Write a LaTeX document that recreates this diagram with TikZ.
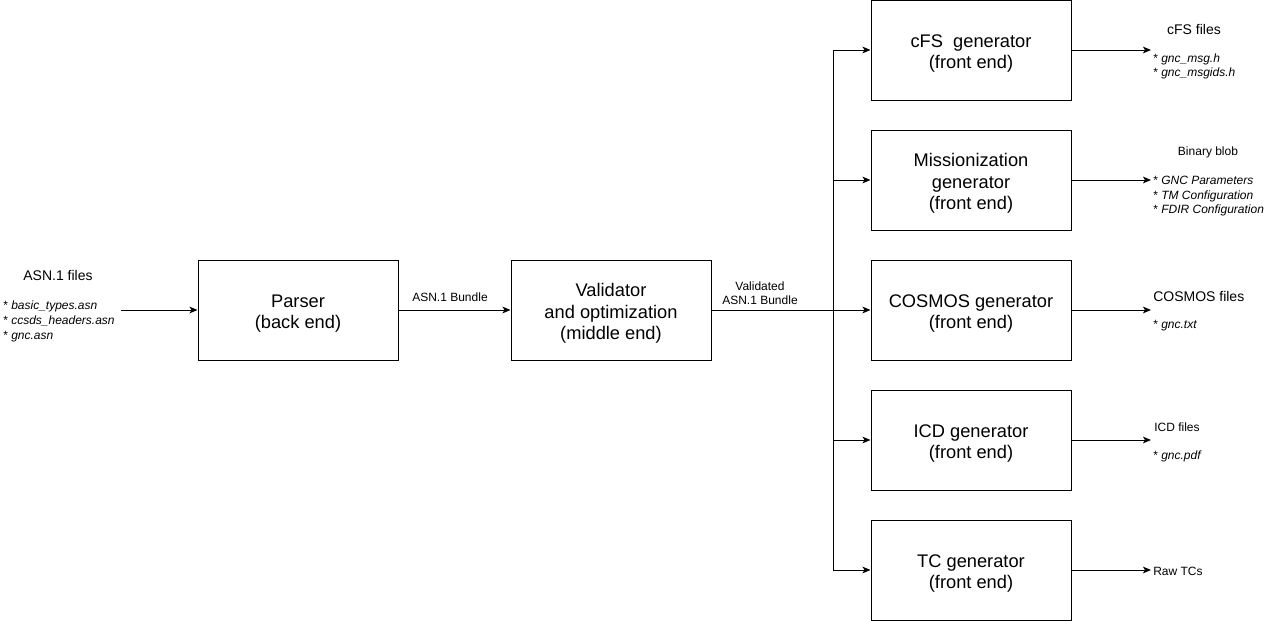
\documentclass[tikz,border=0pt]{standalone}
\usepackage{fontspec}
\setmainfont{Liberation Sans}
\usetikzlibrary{arrows.meta}
\newcommand{\stagetop}{\rule{0pt}{15pt}}
\tikzstyle{stagebox} = [draw=black, fill=white, line width=0.75pt,
    rectangle, minimum width=150pt, minimum height=75pt, align=center,
    font=\fontsize{13.7}{16.3}\selectfont]
\tikzstyle{flow} = [line width=0.75pt, -{Stealth[length=6pt,width=5pt,inset=1.5pt]}]
\tikzstyle{wire} = [line width=0.75pt]
\tikzstyle{filetitle} = [inner sep=0pt, font=\fontsize{10.5}{12.6}\selectfont]
\tikzstyle{smalltitle} = [inner sep=0pt, align=center, font=\fontsize{9}{10.8}\selectfont]
\tikzstyle{filelist} = [inner sep=0pt, align=left, anchor=west,
    font=\fontsize{9}{10.9}\selectfont]

\begin{document}
\begin{tikzpicture}[x=0.75pt, y=-0.75pt]
\useasboundingbox (0,0) rectangle (1271,621);

\node[stagebox] (parser) at (298,310) {\stagetop Parser\\(back end)};
\node[stagebox] (validator) at (611,310) {\stagetop Validator\\and optimization\\(middle end)};

\node[stagebox] (cfs) at (971,50) {\stagetop cFS\ \ generator\\(front end)};
\node[stagebox] (mission) at (971,180) {\stagetop Missionization\\generator\\(front end)};
\node[stagebox] (cosmos) at (971,310) {\stagetop COSMOS generator\\(front end)};
\node[stagebox] (icd) at (971,440) {\stagetop ICD generator\\(front end)};
\node[stagebox] (tc) at (971,570) {\stagetop TC generator\\(front end)};

% inputs
\node[filetitle] (asnfiles) at (58,275) {ASN.1 files};
\node[filelist, font=\fontsize{9}{11.25}\selectfont] (asnlist) at (3,321) {* \textit{basic\_types.asn}\\* \textit{ccsds\_headers.asn}\\* \textit{gnc.asn}};
\coordinate (asnin) at (121,310);
\draw[flow] (asnin) -- (parser);

\node[smalltitle] (bundle) at (450,297) {ASN.1 Bundle};
\draw[flow] (parser) -- (validator);

% fan out to the generators
\coordinate (bus) at (833,310);
\node[smalltitle] (validated) at (760,293) {Validated\\ASN.1 Bundle};
\draw[wire] (validator) -- (bus);
\draw[flow] (bus) |- (cfs.west);
\draw[flow] (bus) |- (mission.west);
\draw[flow] (bus) -- (cosmos.west);
\draw[flow] (bus) |- (icd.west);
\draw[flow] (bus) |- (tc.west);

% outputs
\coordinate (cfsout) at (1151,50);
\coordinate (missionout) at (1151,180);
\coordinate (cosmosout) at (1151,310);
\coordinate (icdout) at (1151,440);
\coordinate (tcout) at (1151,570);
\draw[flow] (cfs) -- (cfsout);
\draw[flow] (mission) -- (missionout);
\draw[flow] (cosmos) -- (cosmosout);
\draw[flow] (icd) -- (icdout);
\draw[flow] (tc) -- (tcout);

\node[filetitle] (cfsfiles) at (1194,29) {cFS files};
\node[filelist] (cfslist) at (1153,66.5) {* \textit{gnc\_msg.h}\\* \textit{gnc\_msgids.h}};

\node[smalltitle] (blob) at (1208,152) {Binary blob};
\node[filelist] (bloblist) at (1153,196.5) {* \textit{GNC Parameters}\\* \textit{TM Configuration}\\* \textit{FDIR Configuration}};

\node[filetitle, anchor=west] (cosmosfiles) at (1153,296) {COSMOS files};
\node[filelist] (cosmoslist) at (1153,326) {* \textit{gnc.txt}};

\node[smalltitle, anchor=west] (icdfiles) at (1154,427) {ICD files};
\node[filelist] (icdlist) at (1153,456) {* \textit{gnc.pdf}};

\node[smalltitle, anchor=west] (rawtc) at (1153,571) {Raw TCs};
\end{tikzpicture}
\end{document}
